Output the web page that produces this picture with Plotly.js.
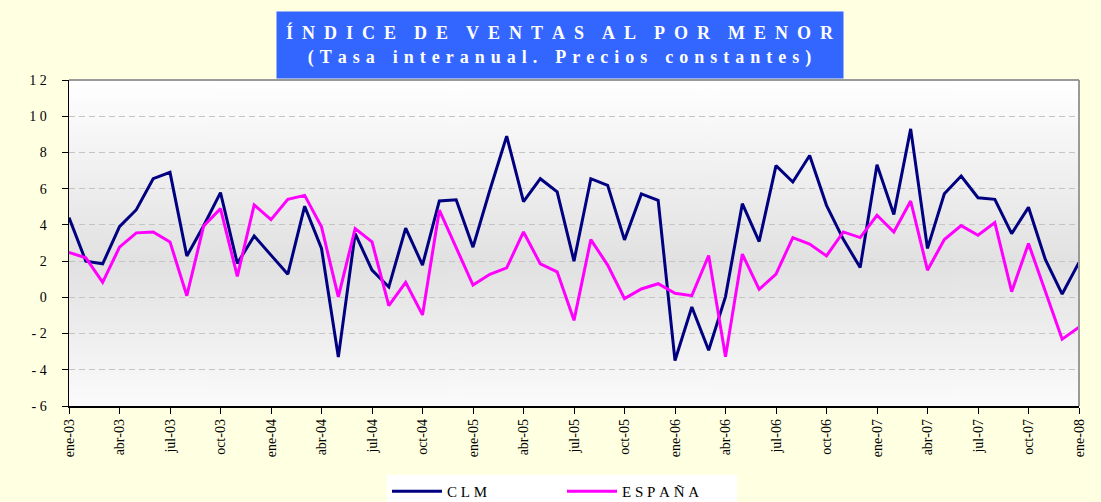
<!DOCTYPE html>
<html>
<head>
<meta charset="utf-8">
<script src="https://cdn.plot.ly/plotly-3.0.1.min.js"></script>
<style>html,body{margin:0;padding:0;background:#FFFFE1;}#chart{width:1101px;height:502px;}</style>
</head>
<body>
<div id="chart"></div>
<script>
// Month names and years for the monthly category axis (ene-03 .. ene-08)
const monthNames = ['ene','feb','mar','abr','may','jun','jul','ago','sep','oct','nov','dic'];
const years = ['03','04','05','06','07','08'];
const months = [];
for (const y of years) for (const m of monthNames) { if (months.length < 61) months.push(m + '-' + y); }

// Year-on-year rate, constant prices
const clm = [
  4.4, 2.0, 1.85, 3.9, 4.84, 6.55, 6.9, 2.28, 3.95, 5.78, 1.87, 3.39,
  2.33, 1.28, 5.03, 2.7, -3.3, 3.52, 1.5, 0.57, 3.82, 1.78, 5.32, 5.39,
  2.77, 5.91, 8.9, 5.28, 6.55, 5.82, 2.0, 6.55, 6.18, 3.17, 5.71, 5.36,
  -3.49, -0.53, -2.92, 0.04, 5.17, 3.08, 7.27, 6.37, 7.83, 5.08, 3.2, 1.65,
  7.32, 4.57, 9.3, 2.7, 5.72, 6.7, 5.5, 5.41, 3.52, 4.97, 2.09, 0.18, 1.93
];
const espana = [
  2.48, 2.18, 0.83, 2.77, 3.56, 3.61, 3.06, 0.09, 3.94, 4.9, 1.16, 5.1,
  4.29, 5.41, 5.63, 3.89, 0.02, 3.8, 3.06, -0.46, 0.83, -0.97, 4.81, 2.73,
  0.68, 1.27, 1.63, 3.61, 1.85, 1.41, -1.27, 3.19, 1.78, -0.07, 0.46, 0.75,
  0.22, 0.09, 2.31, -3.28, 2.39, 0.44, 1.28, 3.3, 2.94, 2.29, 3.61, 3.3,
  4.53, 3.61, 5.32, 1.5, 3.19, 3.96, 3.43, 4.13, 0.31, 2.97, 0.35, -2.31, -1.65
];
const yTickVals = [12, 10, 8, 6, 4, 2, 0, -2, -4, -6];
const yTickText = ['1\u00A02', '1\u00A00', '8', '6', '4', '2', '0', '-\u00A02', '-\u00A04', '-\u00A06'];
const xTickVals = months.filter((m, i) => i % 3 === 0);

const NB = '\u00A0';
function spaced(text, letterGap, wordGap) {
  return text.split(' ').map(w => Array.from(w).join(NB.repeat(letterGap))).join(NB.repeat(wordGap));
}
const titleLine1 = spaced('ÍNDICE DE VENTAS AL POR MENOR', 2, 4);
const titleLine2 = spaced('(Tasa interanual. Precios constantes)', 1, 3).split(NB).join(NB + '\u200A');

// gradient for plot area background
const cv = document.createElement('canvas');
cv.width = 4; cv.height = 326;
const ctx = cv.getContext('2d');
const g = ctx.createLinearGradient(0, 0, 0, 326);
g.addColorStop(0, '#ffffff');
g.addColorStop(0.56, '#e1e1e1');
g.addColorStop(1, '#fbfbfb');
ctx.fillStyle = g; ctx.fillRect(0, 0, 4, 326);
const bgUrl = cv.toDataURL('image/png');

const serif = 'Liberation Serif, Times New Roman, serif';

const traces = [
  {x: months, y: clm, type: 'scatter', mode: 'lines', name: 'C' + NB + 'L' + NB + 'M',
   line: {color: '#000080', width: 3}},
  {x: months, y: espana, type: 'scatter', mode: 'lines', name: spaced('ESPAÑA', 1, 1),
   line: {color: '#FF00FF', width: 3}}
];

const layout = {
  width: 1101, height: 502,
  paper_bgcolor: '#FFFFE1',
  plot_bgcolor: 'rgba(0,0,0,0)',
  margin: {l: 69, r: 22, t: 80, b: 96},
  font: {family: serif, color: '#000'},
  showlegend: true,
  legend: {
    orientation: 'h', xref: 'container', yref: 'container',
    x: 562 / 1101, xanchor: 'center', y: 27 / 502, yanchor: 'top',
    bgcolor: '#ffffff', font: {family: serif, size: 15, color: '#000'},
    entrywidth: 110, entrywidthmode: 'pixels', itemwidth: 50
  },
  xaxis: {
    type: 'category', categoryorder: 'array', categoryarray: months,
    range: [0, 60],
    tickmode: 'array', tickvals: xTickVals, ticktext: xTickVals,
    tickangle: -90, tickfont: {family: serif, size: 14, color: '#000'},
    ticks: 'outside', ticklen: 6, tickcolor: '#000', tickwidth: 1,
    showline: true, linecolor: '#000', linewidth: 1.5,
    showgrid: false, zeroline: false
  },
  yaxis: {
    range: [-6, 12],
    tickmode: 'array', tickvals: yTickVals, ticktext: yTickText,
    tickfont: {family: serif, size: 14, color: '#000'},
    ticks: 'outside', ticklen: 6, tickcolor: '#000', tickwidth: 1,
    ticklabelstandoff: 12,
    showline: true, linecolor: '#000', linewidth: 1.5,
    showgrid: true, gridcolor: '#c4c4c4', griddash: '6px,4px', gridwidth: 1,
    zeroline: false
  },
  images: [{source: bgUrl, xref: 'paper', yref: 'paper', x: 0, y: 1, sizex: 1, sizey: 1,
            sizing: 'stretch', layer: 'below', xanchor: 'left', yanchor: 'top'}],
  shapes: [
    {type: 'line', xref: 'paper', yref: 'paper', x0: 0, x1: 1, y0: 1, y1: 1, line: {color: '#9a9a9a', width: 2}},
    {type: 'line', xref: 'paper', yref: 'paper', x0: 1, x1: 1, y0: 0, y1: 1, line: {color: '#9a9a9a', width: 2}}
  ],
  annotations: [{
    xref: 'paper', yref: 'paper', x: (560 - 69) / 1010, y: 1 + (80 - 45) / 326,
    xanchor: 'center', yanchor: 'middle', showarrow: false,
    text: '<b>' + titleLine1 + '</b><br><b>' + titleLine2 + '</b>',
    font: {family: serif, size: 18, color: '#ffffff'},
    bgcolor: '#3366FF', width: 562, height: 62, borderpad: 2, align: 'center'
  }]
};

Plotly.newPlot('chart', traces, layout, {displayModeBar: false, staticPlot: true});
</script>
</body>
</html>
